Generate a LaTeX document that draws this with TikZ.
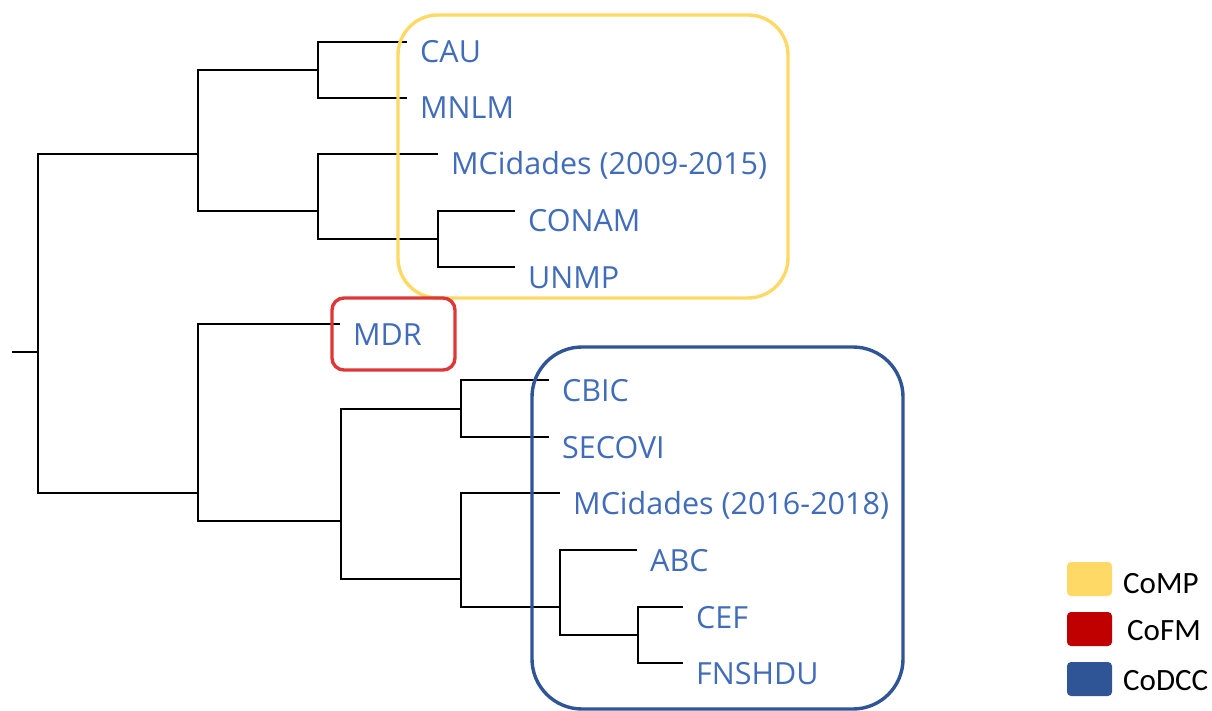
\documentclass[tikz,border=0pt]{standalone}
\usepackage{fontspec}
\setmainfont{Open Sans}
\newfontfamily\legendfont{Carlito}
\usepackage{tikz}
\usetikzlibrary{calc}
\definecolor{compyellow} {RGB}{255, 217, 102}
\definecolor{cofmred}    {RGB}{222,  55,  55}
\definecolor{cofmdark}   {RGB}{192,   0,   0}
\definecolor{codccblue}  {RGB}{ 47,  85, 151}
\definecolor{leafblue}   {RGB}{ 64, 108, 186}
\tikzset{
	branch/.style={line width=2.6pt, black},
	leaf/.style={anchor=base west, inner sep=0pt, xshift=13pt, yshift=-21pt,
		text=leafblue, font=\fontsize{30.5}{36}\selectfont},
	clusterbox/.style={line width=3.4pt, rounded corners=#1},
	legbox/.style={rounded corners=4pt},
	legtext/.style={anchor=base west, inner sep=0pt, font=\legendfont\fontsize{31}{36}\selectfont}
}

\begin{document}
\begin{tikzpicture}[x=1pt, y=-1pt]
	\useasboundingbox (0,0) rectangle (1212,711);
	% leaves
	\foreach \n/\x/\y/\t in {cau/407/42/CAU, mnlm/407/98/MNLM, mcA/438/154/{MCidades (2009-2015)},
		conam/515/211/CONAM, unmp/515/267/UNMP, mdr/340/324/MDR, cbic/549/380/CBIC,
		secovi/549/437/SECOVI, mcB/560/493/{MCidades (2016-2018)}, abc/637/550/ABC,
		cef/683/607/CEF, fnshdu/683/663/FNSHDU}{
		\coordinate (\n) at (\x,\y);
		\node[leaf] (\n-lbl) at (\n) {\t};
	}
	% junctions
	\foreach \n/\x/\y in {root/38/352, jA/198/154, jB/318/70, jC/318/211, jD/438/239,
		jE/198/493, jF/341/521, jG/461/409, jH/461/579, jI/560/607, jJ/638/635}{\coordinate (\n) at (\x,\y);}
	\coordinate (stub) at (12,352);
	% tree
	\draw[branch] (stub) -- (root);
	\foreach \p/\c in {root/jA, root/jE, jA/jB, jA/jC, jB/cau, jB/mnlm, jC/mcA, jC/jD,
		jD/conam, jD/unmp, jE/mdr, jE/jF, jF/jG, jF/jH, jG/cbic, jG/secovi, jH/mcB,
		jH/jI, jI/abc, jI/jJ, jJ/cef, jJ/fnshdu}{\draw[branch] (\p) |- (\c);}
	% clusters
	\draw[clusterbox=40pt, compyellow] (398,15) rectangle (788,298);
	\draw[clusterbox=12pt, cofmred] (332,298) rectangle (455,370);
	\draw[clusterbox=50pt, codccblue] (532,347) rectangle (903,709);
	% legend
	\foreach \c/\y/\b/\x/\t in {compyellow/562/593/1123/CoMP, cofmdark/612/640/1127/CoFM,
		codccblue/662/690/1123/CoDCC}{
		\fill[legbox, \c] (1067,\y) rectangle ++(45,34);
		\node[legtext] (leg-\t) at (\x,\b) {\t};
	}
\end{tikzpicture}
\end{document}
